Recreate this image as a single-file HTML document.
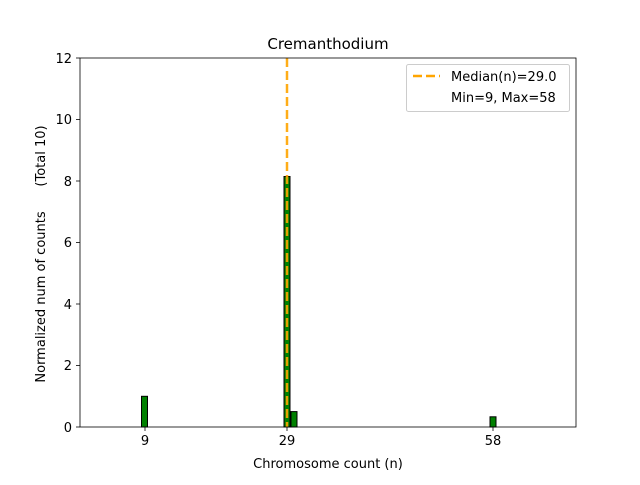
<!DOCTYPE html>
<html><head><style>body{margin:0;background:#fff}</style></head><body>
<svg width="640" height="480" xmlns="http://www.w3.org/2000/svg" font-family="'DejaVu Sans','Liberation Sans',sans-serif">
<rect width="640" height="480" fill="#fff"/>
<g fill="#008000" stroke="#000" stroke-width="1">
<rect x="141.5" y="396.3" width="6" height="30.7"/>
<rect x="284" y="176.5" width="6" height="250.5"/>
<rect x="291" y="411.6" width="6" height="15.4"/>
<rect x="490" y="416.8" width="6" height="10.2"/>
</g>
<line x1="287" y1="58" x2="287" y2="427" stroke="#FFA500" stroke-width="2.5" stroke-dasharray="9,4" opacity="0.9"/>
<rect x="80" y="58" width="496" height="369" fill="none" stroke="#000" stroke-width="0.8"/>
<g stroke="#000" stroke-width="0.8">
<line x1="145" y1="427" x2="145" y2="431"/><line x1="287" y1="427" x2="287" y2="431"/><line x1="493" y1="427" x2="493" y2="431"/>
<line x1="80" y1="427" x2="76" y2="427"/><line x1="80" y1="365.5" x2="76" y2="365.5"/><line x1="80" y1="304" x2="76" y2="304"/><line x1="80" y1="242.5" x2="76" y2="242.5"/><line x1="80" y1="181" x2="76" y2="181"/><line x1="80" y1="119.5" x2="76" y2="119.5"/><line x1="80" y1="58" x2="76" y2="58"/>
</g>
<g font-size="13" text-anchor="middle">
<text x="145" y="445">9</text><text x="287" y="445">29</text><text x="493" y="445">58</text>
<text x="328" y="468">Chromosome count (n)</text>
<text x="328" y="49" font-size="15">Cremanthodium</text>
</g>
<g font-size="13" text-anchor="end">
<text x="72" y="432">0</text><text x="72" y="370">2</text><text x="72" y="309">4</text><text x="72" y="247">6</text><text x="72" y="186">8</text><text x="72" y="124">10</text><text x="72" y="63">12</text>
</g>
<text transform="translate(45,254) rotate(-90)" font-size="13" text-anchor="middle" style="white-space:pre">Normalized num of counts      (Total 10)</text>
<rect x="406.5" y="64.5" width="163" height="47" rx="2" fill="#fff" stroke="#ccc"/>
<line x1="413" y1="76" x2="440" y2="76" stroke="#FFA500" stroke-width="2.5" stroke-dasharray="9,4"/>
<text x="451" y="81" font-size="13">Median(n)=29.0</text>
<text x="451" y="102" font-size="13">Min=9, Max=58</text>
</svg>
</body></html>
